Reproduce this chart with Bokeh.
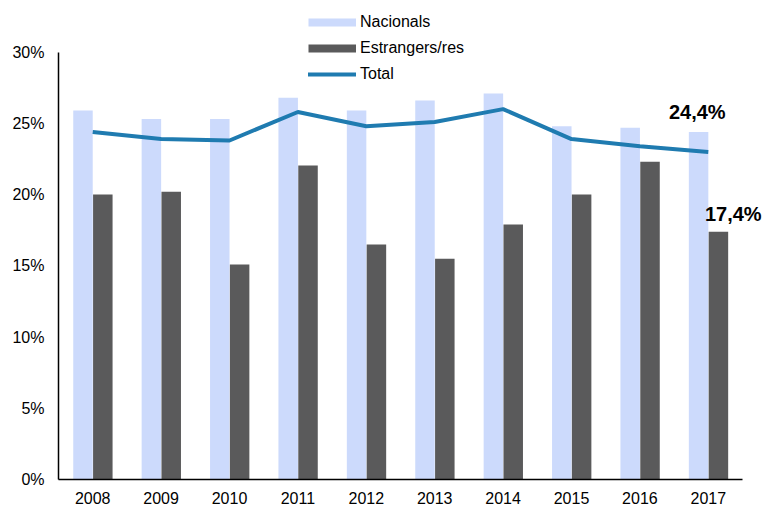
from bokeh.plotting import figure
from bokeh.models import (ColumnDataSource, Range1d, Legend, LegendItem,
                          PrintfTickFormatter, FixedTicker)
from bokeh.transform import dodge
from bokeh.core.properties import value
from bokeh.embed import file_html
from bokeh.resources import INLINE

years = ["2008", "2009", "2010", "2011", "2012", "2013", "2014", "2015", "2016", "2017"]
nacionals = [25.9, 25.3, 25.3, 26.8, 25.9, 26.6, 27.1, 24.8, 24.7, 24.4]
estrangers = [20.0, 20.2, 15.1, 22.05, 16.5, 15.5, 17.9, 20.0, 22.3, 17.4]
total = [24.4, 23.9, 23.8, 25.8, 24.8, 25.1, 26.0, 23.9, 23.4, 23.0]
label_years = ["2017", "2017"]
label_values = [24.4, 17.4]
label_texts = ["24,4%", "17,4%"]
y_ticks = [0, 5, 10, 15, 20, 25, 30]

FONT = "Liberation Sans"
C_NAC = "#ccdafc"
C_EST = "#5a5a5b"
C_TOT = "#1f7bb0"

idx = list(range(len(years)))
src = ColumnDataSource(dict(i=idx, year=years, nac=nacionals, est=estrangers, tot=total))

p = figure(width=763, height=506, x_range=Range1d(-0.5, 9.807), y_range=Range1d(0, 33.628),
           output_backend="svg", toolbar_location=None,
           min_border_left=58, min_border_right=0, min_border_top=0, min_border_bottom=24)

p.vbar(x=dodge("i", -0.142, range=p.x_range), top="nac", width=0.285, source=src,
       fill_color=C_NAC, line_color=None)
p.vbar(x=dodge("i", 0.148, range=p.x_range), top="est", width=0.285, source=src,
       fill_color=C_EST, line_color=None)
r_tot = p.line(x="i", y="tot", source=src, line_color=C_TOT, line_width=4)

lab_x = [years.index(y) for y in label_years]
p.text(x=[lab_x[0]], y=[label_values[0]], text=[label_texts[0]], x_offset=-11, y_offset=-20,
       text_font=value(FONT), text_font_size="20px", text_font_style="bold",
       text_align="center", text_baseline="middle", text_color="#000000")
p.text(x=[lab_x[1]], y=[label_values[1]], text=[label_texts[1]], x_offset=25, y_offset=-18,
       text_font=value(FONT), text_font_size="20px", text_font_style="bold",
       text_align="center", text_baseline="middle", text_color="#000000")

# legend proxies (draw nothing in the plot)
nan = float("nan")
proxy = ColumnDataSource(dict(x=[nan, nan], y=[nan, nan]))
r_nac = p.line(x="x", y="y", source=proxy, line_color=C_NAC, line_width=8, line_cap="butt")
r_est = p.line(x="x", y="y", source=proxy, line_color=C_EST, line_width=8, line_cap="butt")
r_tot_leg = p.line(x="x", y="y", source=proxy, line_color=C_TOT, line_width=4, line_cap="round")

legend = Legend(items=[LegendItem(label="Nacionals", renderers=[r_nac]),
                       LegendItem(label="Estrangers/res", renderers=[r_est]),
                       LegendItem(label="Total", renderers=[r_tot_leg])],
                location=(250, 395), orientation="vertical",
                padding=0, margin=0, spacing=6, glyph_width=48, glyph_height=20,
                label_height=20, label_standoff=4,
                label_text_font=FONT, label_text_font_size="16px", label_text_color="#000000",
                border_line_alpha=0, background_fill_alpha=0)
p.add_layout(legend, "center")

p.grid.visible = False
p.outline_line_color = None

p.xaxis.ticker = FixedTicker(ticks=idx)
p.xaxis.major_label_overrides = {i: y for i, y in zip(idx, years)}
p.xaxis.bounds = (-0.5, len(years) - 0.5)
p.yaxis.ticker = FixedTicker(ticks=y_ticks)
p.yaxis.formatter = PrintfTickFormatter(format="%d%%")
p.yaxis.bounds = (y_ticks[0], y_ticks[-1])
for ax in (p.xaxis, p.yaxis):
    ax.major_tick_line_color = None
    ax.minor_tick_line_color = None
    ax.axis_line_color = "#000000"
    ax.axis_line_width = 1.5
    ax.major_label_text_font = FONT
    ax.major_label_text_font_size = "16px"
    ax.major_label_text_color = "#000000"
p.yaxis.major_label_standoff = 8
p.xaxis.major_label_standoff = 6

open("out.html", "w").write(file_html(p, INLINE))
